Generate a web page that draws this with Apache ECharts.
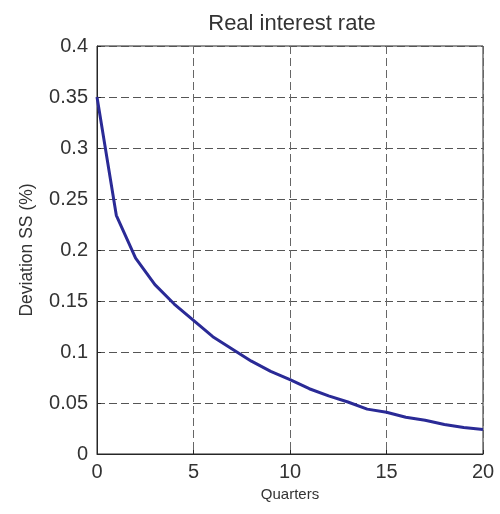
<!DOCTYPE html>
<html><head><meta charset="utf-8">
<script src="https://cdn.jsdelivr.net/npm/echarts@6/dist/echarts.min.js"></script>
<style>html,body{margin:0;padding:0;background:#fff}#c{width:500px;height:514px}</style>
</head><body><div id="c"></div>
<script>
const quarters = [0,1,2,3,4,5,6,7,8,9,10,11,12,13,14,15,16,17,18,19,20];
const deviation = [0.350,0.234,0.192,0.166,0.147,0.131,0.115,0.103,0.091,0.081,0.073,0.064,0.057,0.051,0.044,0.041,0.036,0.033,0.029,0.026,0.024];
const titleText = "Real interest rate";
const xName = "Quarters";
const yName = "Deviation SS (%)";

const chart = echarts.init(document.getElementById('c'));
const font = "'Liberation Sans', Arial, sans-serif";
chart.setOption({
  animation: false,
  title: { text: titleText, left: 287, top: 8, textAlign: 'center',
    textStyle: { fontFamily: font, fontSize: 22, fontWeight: 'normal', color: '#333' } },
  grid: { left: 97, right: 17, top: 46, bottom: 60, show: true, borderColor: '#262626', borderWidth: 1 },
  xAxis: {
    type: 'value', min: 0, max: 20, interval: 5,
    name: xName, nameLocation: 'middle', nameGap: 30,
    nameTextStyle: { fontFamily: font, fontSize: 15, color: '#333' },
    axisLine: { show: true, lineStyle: { color: '#262626' } },
    axisTick: { show: true, inside: true, length: 4, lineStyle: { color: '#262626' } },
    axisLabel: { fontFamily: font, fontSize: 20, color: '#333', margin: 8 },
    splitLine: { show: true, lineStyle: { type: [8, 4], color: '#666', width: 1 } }
  },
  yAxis: {
    type: 'value', min: 0, max: 0.4, interval: 0.05,
    name: yName, nameLocation: 'middle', nameGap: 61,
    nameTextStyle: { fontFamily: font, fontSize: 17.5, color: '#333' },
    axisLine: { show: true, lineStyle: { color: '#262626' } },
    axisTick: { show: true, inside: true, length: 4, lineStyle: { color: '#262626' } },
    axisLabel: { fontFamily: font, fontSize: 20, color: '#333', margin: 9,
      formatter: v => String(Math.round(v*100)/100) },
    splitLine: { show: true, lineStyle: { type: [8, 4], color: '#555', width: 1 } }
  },
  series: [{
    type: 'line', data: quarters.map((q,i)=>[q, deviation[i]]),
    showSymbol: false, lineStyle: { color: '#2a2a96', width: 3 }, itemStyle: { color: '#2a2a96' }
  }]
});
</script></body></html>
